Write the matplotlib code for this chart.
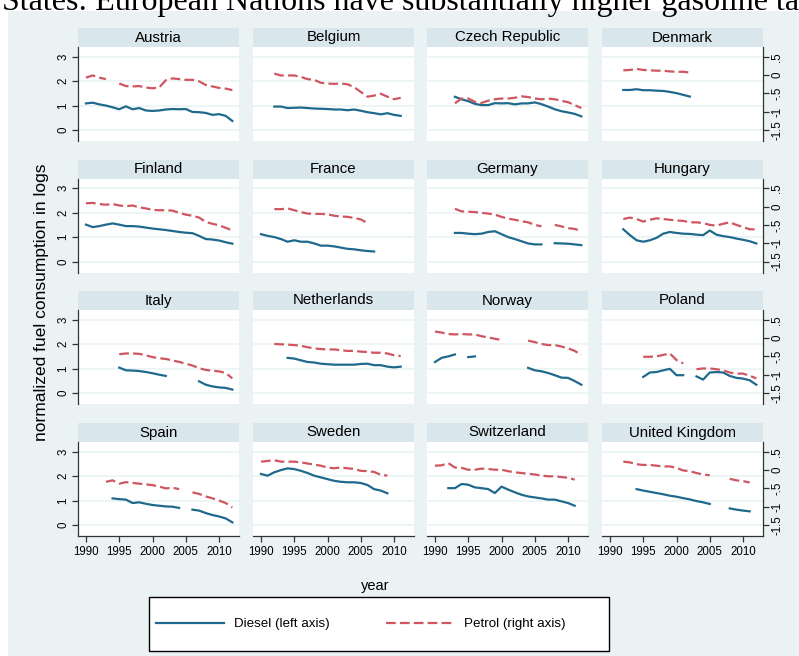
import numpy as np
import matplotlib
matplotlib.use("Agg")
import matplotlib.pyplot as plt
from matplotlib.patches import Rectangle
from matplotlib.lines import Line2D

plt.rcParams['font.family'] = ['Liberation Sans', 'DejaVu Sans']
plt.rcParams['lines.scale_dashes'] = False

N = None
years = list(range(1990, 2013))

countries = ["Austria", "Belgium", "Czech Republic", "Denmark",
             "Finland", "France", "Germany", "Hungary",
             "Italy", "Netherlands", "Norway", "Poland",
             "Spain", "Sweden", "Switzerland", "United Kingdom"]

# Diesel (left axis), 1990-2012
austria_diesel = [1.09, 1.12, 1.05, 1.0, 0.93, 0.85, 0.97, 0.85, 0.9, 0.8, 0.78, 0.8, 0.84, 0.86, 0.85, 0.86, 0.74, 0.73, 0.7, 0.62, 0.65, 0.58, 0.37]
belgium_diesel = [N, N, 0.96, 0.96, 0.9, 0.91, 0.92, 0.9, 0.88, 0.87, 0.86, 0.84, 0.84, 0.81, 0.84, 0.79, 0.73, 0.69, 0.64, 0.69, 0.62, 0.58, N]
czech_diesel = [N, N, N, 1.36, 1.26, 1.18, 1.07, 1.02, 1.02, 1.1, 1.09, 1.1, 1.05, 1.09, 1.09, 1.13, 1.06, 0.96, 0.85, 0.77, 0.72, 0.66, 0.56]
denmark_diesel = [N, N, 1.64, 1.64, 1.67, 1.63, 1.63, 1.61, 1.6, 1.56, 1.51, 1.44, 1.37, N, N, N, N, N, N, N, N, N, N]
finland_diesel = [1.51, 1.41, 1.45, 1.51, 1.56, 1.51, 1.45, 1.45, 1.43, 1.39, 1.35, 1.32, 1.29, 1.25, 1.21, 1.18, 1.16, 1.05, 0.92, 0.9, 0.86, 0.79, 0.73]
france_diesel = [1.12, 1.05, 1.0, 0.92, 0.81, 0.87, 0.81, 0.81, 0.74, 0.65, 0.65, 0.62, 0.57, 0.52, 0.5, 0.46, 0.43, 0.41, N, N, N, N, N]
germany_diesel = [N, N, N, 1.17, 1.17, 1.14, 1.12, 1.14, 1.21, 1.24, 1.12, 1.0, 0.92, 0.83, 0.74, 0.7, 0.7, N, 0.75, 0.74, 0.73, 0.7, 0.67]
hungary_diesel = [N, N, 1.32, 1.08, 0.87, 0.81, 0.87, 0.97, 1.14, 1.21, 1.17, 1.14, 1.13, 1.1, 1.08, 1.27, 1.1, 1.04, 1.0, 0.94, 0.89, 0.83, 0.74]
italy_diesel = [N, N, N, N, N, 1.04, 0.93, 0.92, 0.9, 0.86, 0.81, 0.75, 0.7, N, N, N, N, 0.48, 0.34, 0.27, 0.23, 0.21, 0.14]
netherlands_diesel = [N, N, N, N, 1.44, 1.41, 1.34, 1.27, 1.25, 1.2, 1.18, 1.16, 1.16, 1.16, 1.16, 1.19, 1.2, 1.14, 1.14, 1.08, 1.05, 1.08, N]
norway_diesel = [1.27, 1.44, 1.5, 1.58, N, 1.47, 1.5, N, N, N, N, N, N, N, 1.03, 0.93, 0.89, 0.82, 0.73, 0.63, 0.62, 0.49, 0.34]
poland_diesel = [N, N, N, N, N, 0.66, 0.84, 0.86, 0.93, 0.99, 0.73, 0.73, N, 0.68, 0.55, 0.84, 0.86, 0.84, 0.7, 0.62, 0.59, 0.52, 0.34]
spain_diesel = [N, N, N, N, 1.09, 1.06, 1.04, 0.9, 0.93, 0.87, 0.82, 0.79, 0.76, 0.75, 0.7, N, 0.63, 0.59, 0.49, 0.41, 0.35, 0.27, 0.11]
sweden_diesel = [2.09, 2.02, 2.16, 2.25, 2.32, 2.29, 2.22, 2.13, 2.02, 1.95, 1.88, 1.81, 1.77, 1.75, 1.75, 1.72, 1.64, 1.47, 1.41, 1.3, N, N, N]
switzerland_diesel = [N, N, 1.51, 1.51, 1.68, 1.65, 1.54, 1.51, 1.47, 1.31, 1.57, 1.45, 1.34, 1.24, 1.17, 1.13, 1.09, 1.04, 1.04, 0.97, 0.9, 0.79, N]
uk_diesel = [N, N, N, N, 1.47, 1.41, 1.36, 1.31, 1.26, 1.2, 1.16, 1.1, 1.05, 0.98, 0.93, 0.86, N, N, 0.68, 0.63, 0.59, 0.56, N]

# Petrol (right axis), 1990-2012
austria_petrol = [-0.07, -0.01, -0.07, -0.11, N, -0.23, -0.30, -0.31, -0.30, -0.34, -0.36, -0.34, -0.14, -0.09, -0.11, -0.13, -0.13, -0.17, -0.27, -0.31, -0.35, -0.37, -0.41]
belgium_petrol = [N, N, 0.04, -0.01, -0.01, -0.01, -0.05, -0.11, -0.13, -0.21, -0.23, -0.24, -0.23, -0.25, -0.33, -0.46, -0.59, -0.56, -0.51, -0.59, -0.66, -0.62, N]
czech_petrol = [N, N, N, -0.77, -0.64, -0.64, -0.73, -0.76, -0.70, -0.66, -0.64, -0.64, -0.62, -0.58, -0.60, -0.64, -0.66, -0.64, -0.66, -0.70, -0.74, -0.82, -0.90]
denmark_petrol = [N, N, 0.13, 0.14, 0.17, 0.14, 0.13, 0.12, 0.12, 0.10, 0.09, 0.09, 0.07, N, N, N, N, N, N, N, N, N, N]
finland_petrol = [0.09, 0.10, 0.07, 0.05, 0.07, 0.03, 0.01, 0.03, -0.02, -0.05, -0.09, -0.10, -0.10, -0.11, -0.17, -0.22, -0.25, -0.30, -0.42, -0.47, -0.51, -0.58, -0.65]
france_petrol = [N, N, -0.07, -0.07, -0.05, -0.10, -0.15, -0.19, -0.20, -0.20, -0.21, -0.25, -0.27, -0.28, -0.31, -0.35, -0.45, N, N, N, N, N, N]
germany_petrol = [N, N, N, -0.06, -0.13, -0.14, -0.15, -0.17, -0.19, -0.22, -0.28, -0.33, -0.36, -0.40, -0.43, -0.50, -0.54, N, -0.50, -0.54, -0.59, -0.61, -0.67]
hungary_petrol = [N, N, -0.34, -0.30, -0.34, -0.41, -0.36, -0.32, -0.34, -0.36, -0.38, -0.39, -0.43, -0.43, -0.45, -0.50, -0.52, -0.47, -0.43, -0.50, -0.56, -0.62, -0.62]
italy_petrol = [N, N, N, N, N, -0.44, -0.42, -0.42, -0.43, -0.47, -0.52, -0.55, -0.57, -0.61, -0.65, -0.70, -0.75, -0.82, -0.87, -0.89, -0.91, -0.95, -1.10]
netherlands_petrol = [N, N, -0.16, -0.17, -0.18, -0.19, -0.21, -0.25, -0.28, -0.30, -0.31, -0.31, -0.33, -0.35, -0.35, -0.37, -0.38, -0.40, -0.40, -0.42, -0.47, -0.49, N]
norway_petrol = [0.18, 0.15, 0.11, 0.10, 0.11, 0.10, 0.10, 0.05, 0.02, -0.02, -0.05, N, N, N, -0.07, -0.11, -0.16, -0.19, -0.19, -0.23, -0.28, -0.35, -0.46]
poland_petrol = [N, N, N, N, N, -0.51, -0.51, -0.50, -0.46, -0.42, -0.60, -0.69, N, -0.85, -0.83, -0.83, -0.85, -0.88, -0.94, -0.97, -0.97, -1.03, -1.10]
spain_petrol = [N, N, N, -0.32, -0.28, -0.37, -0.33, -0.35, -0.37, -0.39, -0.41, -0.45, -0.50, -0.48, -0.52, N, -0.61, -0.65, -0.72, -0.77, -0.83, -0.90, -1.02]
sweden_petrol = [0.23, 0.25, 0.27, 0.23, 0.23, 0.23, 0.21, 0.18, 0.15, 0.12, 0.07, 0.05, 0.07, 0.05, 0.03, -0.02, -0.03, -0.05, -0.13, -0.15, N, N, N]
switzerland_petrol = [0.12, 0.13, 0.19, 0.07, 0.06, 0.01, 0.01, 0.04, 0.03, 0.01, 0.01, -0.03, -0.06, -0.08, -0.10, -0.12, -0.15, -0.17, -0.17, -0.19, -0.21, -0.26, N]
uk_petrol = [N, N, 0.23, 0.21, 0.16, 0.14, 0.14, 0.12, 0.10, 0.10, 0.06, -0.01, -0.03, -0.08, -0.12, -0.14, N, N, -0.24, -0.28, -0.30, -0.34, N]

diesel_series = [austria_diesel, belgium_diesel, czech_diesel, denmark_diesel,
                 finland_diesel, france_diesel, germany_diesel, hungary_diesel,
                 italy_diesel, netherlands_diesel, norway_diesel, poland_diesel,
                 spain_diesel, sweden_diesel, switzerland_diesel, uk_diesel]
petrol_series = [austria_petrol, belgium_petrol, czech_petrol, denmark_petrol,
                 finland_petrol, france_petrol, germany_petrol, hungary_petrol,
                 italy_petrol, netherlands_petrol, norway_petrol, poland_petrol,
                 spain_petrol, sweden_petrol, switzerland_petrol, uk_petrol]

left_ticks = [0, 1, 2, 3]
right_ticks = [-1.5, -1, -0.5, 0, 0.5]
right_ticklabels = ["-1.5", "-1", "-.5", "0", ".5"]
x_ticks = [1990, 1995, 2000, 2005, 2010]

BG = "#eaf2f3"
STRIP = "#d9e6eb"
GRID = "#eaf2f3"
BLUE = "#1f6a8c"
RED = "#cf5660"
AXC = "#333333"

W, H = 799, 656
fig = plt.figure(figsize=(W / 100, H / 100), dpi=100, facecolor="white")
fig.patches.append(Rectangle((8 / W, 0), 1, 1 - 11 / H, transform=fig.transFigure,
                             facecolor=BG, edgecolor="none", zorder=-5))

fig.text(2 / W, 1 - 10 / H, "States: European Nations have substantially higher gasoline ta",
         family=["Liberation Serif", "DejaVu Serif"], fontsize=23, ha="left", va="baseline")

col_left = [78, 253, 427, 602]
strip_top = [28, 159.5, 291, 423]
pw, ph, sh = 161, 94, 19
TS = 8.3

def to_arr(v):
    return np.array([np.nan if a is None else a for a in v], dtype=float)

for i, c in enumerate(countries):
    r, k = divmod(i, 4)
    x0 = col_left[k]
    top = strip_top[r] + sh
    # strip
    sax = fig.add_axes([x0 / W, 1 - top / H, pw / W, sh / H])
    sax.set_facecolor(STRIP)
    sax.set_xticks([]); sax.set_yticks([])
    for s in sax.spines.values():
        s.set_visible(False)
    sax.text(0.5, 0.5, c, ha="center", va="center", fontsize=10.8, transform=sax.transAxes)

    ax = fig.add_axes([x0 / W, 1 - (top + ph) / H, pw / W, ph / H])
    ax.set_facecolor("white")
    ax.set_xlim(1988.8, 2013.0)
    ax.set_ylim(-0.45, 3.4)
    ax.set_yticks(left_ticks)
    ax.set_xticks(x_ticks)
    ax.grid(axis="y", color=GRID, lw=1.1)
    ax.set_axisbelow(True)
    ax2 = ax.twinx()
    ax2.set_ylim(-1.8, 0.767)
    ax2.set_yticks(right_ticks)
    ax2.set_yticklabels(right_ticklabels)

    ax.plot(years, to_arr(diesel_series[i]), color=BLUE, lw=1.6, zorder=3)
    ax2.plot(years, to_arr(petrol_series[i]), color=RED, lw=1.6, dashes=(7, 3), zorder=3)

    for a in (ax, ax2):
        for s in a.spines.values():
            s.set_visible(False)
            s.set_color(AXC)
            s.set_linewidth(0.9)

    ax.tick_params(axis="y", left=(k == 0), labelleft=(k == 0), right=False, labelright=False,
                   length=4, width=0.9, color=AXC, pad=2, labelsize=TS, labelrotation=90)
    ax.tick_params(axis="x", bottom=(r == 3), labelbottom=(r == 3), top=False,
                   length=4, width=0.9, color=AXC, pad=3, labelsize=TS)
    ax2.tick_params(axis="y", right=(k == 3), labelright=(k == 3), left=False, labelleft=False,
                    length=4, width=0.9, color=AXC, pad=2, labelsize=TS, labelrotation=90)
    for lab in ax.get_yticklabels() + ax2.get_yticklabels():
        lab.set_verticalalignment("center")
    if k == 0:
        ax.spines["left"].set_visible(True)
    if k == 3:
        ax2.spines["right"].set_visible(True)
    if r == 3:
        ax.spines["bottom"].set_visible(True)

fig.text(42 / W, 1 - 302 / H, "normalized fuel consumption in logs", rotation=90,
         ha="center", va="center", fontsize=12.5)
fig.text(375 / W, 1 - 586 / H, "year", ha="center", va="center", fontsize=10.5)

# legend frame and legend
fig.patches.append(Rectangle((149 / W, 1 - 651 / H), 460 / W, 54 / H, transform=fig.transFigure,
                             facecolor="white", edgecolor="black", lw=1.0, zorder=1))
handles = [Line2D([], [], color=BLUE, lw=1.6),
           Line2D([], [], color=RED, lw=1.6, dashes=(7, 3))]
fig.legend(handles, ["Diesel (left axis)", "Petrol (right axis)"], ncol=2,
           loc="center left", bbox_to_anchor=(156 / W, 1 - 624 / H), frameon=False,
           fontsize=9.6, handlelength=5.1, handletextpad=0.75, columnspacing=4.2,
           borderpad=0, borderaxespad=0)

fig.savefig("out.png", dpi=100, facecolor="white")
